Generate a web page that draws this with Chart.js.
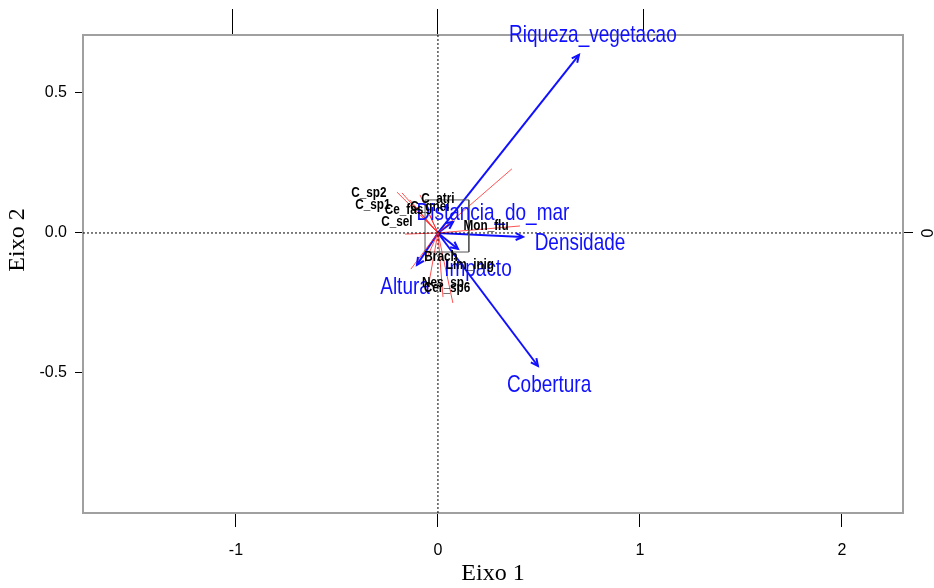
<!DOCTYPE html>
<html>
<head>
<meta charset="utf-8">
<script src="https://cdn.jsdelivr.net/npm/chart.js@4.4.1/dist/chart.umd.min.js"></script>
<style>
    html, body { margin: 0; padding: 0; background: #fff; }
    #wrap { width: 934px; height: 588px; }
</style>
</head>
<body>
<div id="wrap"><canvas id="biplot" width="934" height="588"></canvas></div>
<script>
// Environmental variables (blue arrows)
const envNames = ['Riqueza_vegetacao', 'Distancia_do_mar', 'Densidade', 'Impacto', 'Altura', 'Cobertura'];
const envX = [0.698, 0.075, 0.421, 0.099, -0.104, 0.495];
const envY = [0.636, 0.040, -0.014, -0.057, -0.114, -0.475];
const envLabelX = [0.767, 0.272, 0.703, 0.198, -0.163, 0.550];
const envLabelY = [0.704, 0.071, -0.036, -0.129, -0.193, -0.546];

// Species (red lines from origin)
const sppLineX = [-0.203, -0.178, -0.139, -0.124, -0.089, -0.040, -0.163, 0.366, 0.406, -0.134, -0.064, -0.050, 0.025, 0.074];
const sppLineY = [0.146, 0.143, 0.118, 0.100, 0.136, 0.064, -0.004, 0.229, 0.025, -0.129, -0.104, -0.200, -0.229, -0.250];

// Species labels
const sppNames = ['C_sp2', 'C_sp1', 'Ce_fas', 'C_gnei', 'C_atri', 'C_sel', 'Mon_flu', 'Brach', 'Lim_inig', 'Nes_sp', 'Cer_sp6'];
const sppLabelX = [-0.342, -0.322, -0.168, -0.040, 0.000, -0.203, 0.238, 0.015, 0.158, 0.025, 0.045];
const sppLabelY = [0.143, 0.100, 0.082, 0.093, 0.121, 0.039, 0.025, -0.086, -0.114, -0.179, -0.196];

// Small box around the origin
const boxX = [-0.064, 0.153, 0.153, -0.064, -0.064];
const boxY = [0.118, 0.118, -0.068, -0.068, 0.118];

// Axes
const xLimits = [-1.757, 2.302];
const yLimits = [-1.0, 0.707];
const topLimits = [-1.727, 2.263];
const xTicks = [-1, 0, 1, 2];
const yTicks = [-0.5, 0, 0.5];
const topTicks = [-1, 0, 1];
const rightTicks = [0];

const SANS = "'Liberation Sans', Arial, sans-serif";
const SERIF = "'Liberation Serif', 'DejaVu Serif', serif";
const FRAME = '#a0a0a0';
const BLUE = '#1010ff';

const segment = (x, y) => [{ x: 0, y: 0 }, { x: x, y: y }];

const datasets = [];

// dotted zero lines
datasets.push({
    data: [{ x: 0, y: yLimits[0] }, { x: 0, y: yLimits[1] }],
    borderColor: '#000', borderWidth: 1, borderDash: [2, 2]
});
datasets.push({
    data: [{ x: xLimits[0], y: 0 }, { x: xLimits[1], y: 0 }],
    borderColor: '#000', borderWidth: 1, borderDash: [2, 2]
});

// box
datasets.push({
    data: boxX.map((x, i) => ({ x: x, y: boxY[i] })),
    borderColor: '#555', borderWidth: 1
});

// species lines
sppLineX.forEach((x, i) => {
    datasets.push({
        data: segment(x, sppLineY[i]),
        borderColor: 'rgba(255, 40, 40, 0.8)', borderWidth: 1
    });
});

// environmental arrows
envX.forEach((x, i) => {
    datasets.push({
        data: segment(x, envY[i]),
        borderColor: BLUE, borderWidth: 2
    });
});

datasets.forEach(d => {
    d.showLine = true;
    d.pointRadius = 0;
    d.fill = false;
    d.tension = 0;
});

// draw text squeezed horizontally (R output uses a narrow face)
function narrowText(ctx, text, x, y, squeeze) {
    ctx.save();
    ctx.translate(x, y);
    ctx.scale(squeeze, 1);
    ctx.fillText(text, 0, 0);
    ctx.restore();
}

/**
 * Arrow heads, labels and extra axis text
 */
const biplotText = {
    id: 'biplotText',
    afterDatasetsDraw(chart) {
        const ctx = chart.ctx;
        const sx = chart.scales.x;
        const sy = chart.scales.y;
        const ox = sx.getPixelForValue(0);
        const oy = sy.getPixelForValue(0);

        ctx.save();
        // arrow heads
        ctx.strokeStyle = BLUE;
        ctx.lineWidth = 2;
        envX.forEach((x, i) => {
            const px = sx.getPixelForValue(x);
            const py = sy.getPixelForValue(envY[i]);
            const a = Math.atan2(py - oy, px - ox);
            const len = 8;
            ctx.beginPath();
            ctx.moveTo(px - len * Math.cos(a - 0.45), py - len * Math.sin(a - 0.45));
            ctx.lineTo(px, py);
            ctx.lineTo(px - len * Math.cos(a + 0.45), py - len * Math.sin(a + 0.45));
            ctx.stroke();
        });

        ctx.textAlign = 'center';
        ctx.textBaseline = 'middle';

        // environmental labels
        ctx.fillStyle = BLUE;
        ctx.font = "24px " + SANS;
        envNames.forEach((name, i) => {
            narrowText(ctx, name, sx.getPixelForValue(envLabelX[i]), sy.getPixelForValue(envLabelY[i]), 0.79);
        });

        // species labels
        ctx.fillStyle = '#000';
        ctx.font = "bold 14px " + SANS;
        sppNames.forEach((name, i) => {
            narrowText(ctx, name, sx.getPixelForValue(sppLabelX[i]), sy.getPixelForValue(sppLabelY[i]), 0.84);
        });
        ctx.restore();
    },
    afterDraw(chart) {
        const ctx = chart.ctx;
        const sy = chart.scales.y;
        const y2 = chart.scales.y2;
        ctx.save();
        ctx.fillStyle = '#000';
        ctx.textAlign = 'center';
        ctx.textBaseline = 'middle';

        // left axis title
        ctx.save();
        ctx.translate(18, sy.getPixelForValue(0) + 7);
        ctx.rotate(-Math.PI / 2);
        ctx.font = "24px " + SERIF;
        ctx.fillText('Eixo 2', 0, 0);
        ctx.restore();

        // right axis label
        ctx.save();
        ctx.translate(y2.right - 5, y2.getPixelForValue(0));
        ctx.rotate(-Math.PI / 2);
        ctx.font = "16px " + SANS;
        ctx.fillText('0', 0, 0);
        ctx.restore();

        ctx.restore();
    }
};

const ctx = document.getElementById('biplot').getContext('2d');

new Chart(ctx, {
    type: 'scatter',
    data: { datasets: datasets },
    plugins: [biplotText],
    options: {
        responsive: false,
        animation: false,
        layout: { padding: 0 },
        plugins: {
            legend: { display: false },
            tooltip: { enabled: false }
        },
        scales: {
            x: {
                type: 'linear',
                position: 'bottom',
                min: xLimits[0],
                max: xLimits[1],
                afterBuildTicks: s => { s.ticks = xTicks.map(v => ({ value: v })); },
                ticks: {
                    color: '#000',
                    padding: 14,
                    maxRotation: 0,
                    font: { family: SANS, size: 16 },
                    callback: v => String(v)
                },
                grid: { drawOnChartArea: false, drawTicks: true, tickLength: 14, tickColor: '#000', tickWidth: 1 },
                border: { color: FRAME, width: 2 },
                title: {
                    display: true,
                    text: 'Eixo 1',
                    color: '#000',
                    padding: 0,
                    font: { family: SERIF, size: 24 }
                },
                afterFit: s => { s.height = 75; }
            },
            x2: {
                type: 'linear',
                position: 'top',
                min: topLimits[0],
                max: topLimits[1],
                afterBuildTicks: s => { s.ticks = topTicks.map(v => ({ value: v })); },
                ticks: { display: false },
                grid: { drawOnChartArea: false, drawTicks: true, tickLength: 26, tickColor: '#000', tickWidth: 1 },
                border: { color: FRAME, width: 2 },
                afterFit: s => { s.height = 35; }
            },
            y: {
                type: 'linear',
                position: 'left',
                min: yLimits[0],
                max: yLimits[1],
                afterBuildTicks: s => { s.ticks = yTicks.map(v => ({ value: v })); },
                ticks: {
                    color: '#000',
                    padding: 8,
                    font: { family: SANS, size: 16 },
                    callback: v => v.toFixed(1)
                },
                grid: { drawOnChartArea: false, drawTicks: true, tickLength: 8, tickColor: '#000', tickWidth: 1 },
                border: { color: FRAME, width: 2 },
                afterFit: s => { s.width = 83; }
            },
            y2: {
                type: 'linear',
                position: 'right',
                min: yLimits[0],
                max: yLimits[1],
                afterBuildTicks: s => { s.ticks = rightTicks.map(v => ({ value: v })); },
                ticks: { display: false },
                grid: { drawOnChartArea: false, drawTicks: true, tickLength: 10, tickColor: '#000', tickWidth: 1 },
                border: { color: FRAME, width: 2 },
                afterFit: s => { s.width = 31; }
            }
        }
    }
});
</script>
</body>
</html>
